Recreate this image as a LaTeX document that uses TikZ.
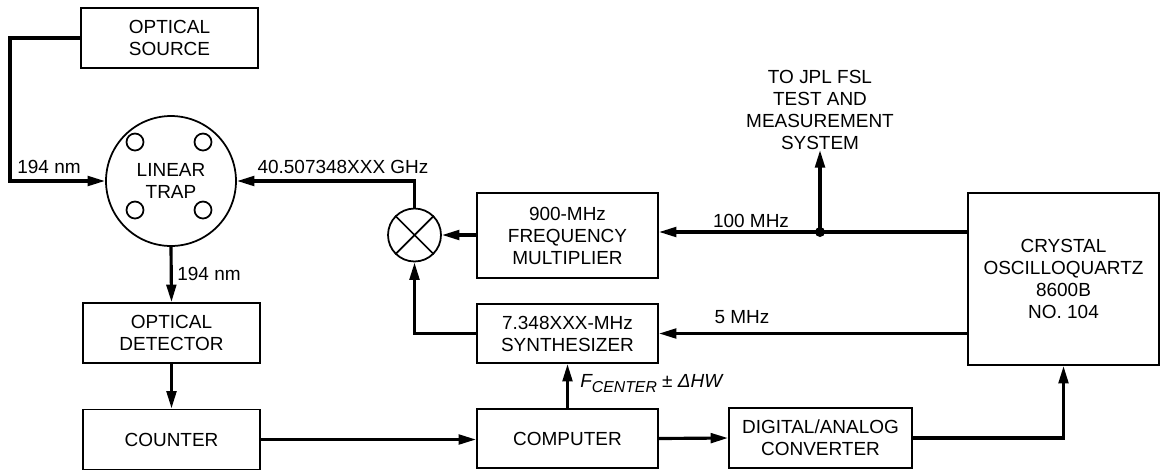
\documentclass[tikz,border=0pt]{standalone}
\usepackage{fontspec}
\setmainfont{Liberation Sans}
\usetikzlibrary{arrows.meta}

\begin{document}
\begin{tikzpicture}[x=0.02cm, y=-0.02cm,
		font=\fontsize{10.8}{12.5}\selectfont,
		box/.style={draw, line width=1pt, align=center, inner sep=0pt},
		ring/.style={draw, circle, line width=1pt, inner sep=0pt, align=center},
		conn/.style={line width=1.8pt},
		arr/.style={conn, -{Triangle[length=10pt, width=5.5pt]}},
		lbl/.style={inner sep=0pt}]
	% Frame of the picture
	\useasboundingbox (0,0) rectangle (1162,471);
	
	% Left column: source, trap, detector, counter
	\node[box, minimum width=3.54cm, minimum height=1.2cm] (src) at (169.5,38) {OPTICAL\\SOURCE};
	\node[ring, minimum size=2.6cm] (trap) at (171,181) {LINEAR\\TRAP};
	\foreach \dx/\dy in {-36/-39, 32/-39, -36/29, 32/29}
		\draw[line width=1pt] ([shift={(\dx,\dy)}]trap.center) circle[radius=0.17cm];
	\node[box, minimum width=3.54cm, minimum height=1.2cm] (det) at (171.5,333) {OPTICAL\\DETECTOR};
	\node[box, minimum width=3.54cm, minimum height=1.2cm] (cnt) at (171.5,439.5) {COUNTER};
	
	% Middle column: mixer, multiplier, synthesizer, computer
	\node[ring, minimum size=1.06cm] (mix) at (414.5,235) {};
	\draw[line width=1pt] (mix.north west) -- (mix.south east) (mix.north east) -- (mix.south west);
	\node[box, minimum width=3.62cm, minimum height=1.7cm] (mult) at (567.5,235.5) {900-MHz\\FREQUENCY\\MULTIPLIER};
	\node[box, minimum width=3.62cm, minimum height=1.18cm] (synth) at (567.5,333.5) {7.348XXX-MHz\\SYNTHESIZER};
	\node[box, minimum width=3.62cm, minimum height=1.18cm] (comp) at (567.5,438.5) {COMPUTER};
	
	% Right side: converter and crystal
	\node[box, minimum width=3.66cm, minimum height=1.2cm] (dac) at (820.5,438) {DIGITAL/ANALOG\\CONVERTER};
	\node[box, minimum width=3.82cm, minimum height=3.44cm] (xtal) at (1063.5,279) {CRYSTAL\\OSCILLOQUARTZ\\8600B\\NO. 104};
	
	% Optical path
	\coordinate (bend) at (10,181);
	\draw[arr] (src.west) -| (bend) -- (trap.west);
	\node[lbl, anchor=base west] (lamA) at (17,173) {194 nm};
	\draw[arr] (trap.south) -- (det.north);
	\node[lbl, anchor=west] (lamB) at (177,274) {194 nm};
	\draw[arr] (det.south) -- (cnt.north);
	
	% Counting and control
	\draw[arr] (cnt.east) -- (cnt.east -| comp.west);
	\draw[arr] (comp.north) -- (synth.south);
	\node[lbl, anchor=base west] (fc) at (580,387) {\itshape F\raisebox{-0.5ex}{\fontsize{9}{9}\selectfont CENTER} \upshape± \itshape ΔHW};
	\draw[arr] (comp.east) -- (dac.west);
	\draw[arr] (dac.east) -| (xtal.south);
	
	% Reference chain
	\coordinate (tap) at (820,232);
	\draw[arr] (xtal.west |- tap) -- (tap -| mult.east);
	\fill (tap) circle[radius=0.1cm];
	\node[lbl, anchor=base] (mhzA) at (751,227) {100 MHz};
	\node[lbl, align=center, anchor=south] (fsl) at (820,150) {TO JPL FSL\\TEST AND\\MEASUREMENT\\SYSTEM};
	\draw[arr] (tap) -- (fsl.south);
	\draw[arr] (xtal.west |- synth.east) -- (synth.east);
	\node[lbl, anchor=base] (mhzB) at (742,323) {5 MHz};
	
	% Mixing up to the trap
	\draw[arr] (mult.west |- mix.east) -- (mix.east);
	\draw[arr] (synth.west) -| (mix.south);
	\draw[arr] (mix.north) |- (trap.east);
	\node[lbl, anchor=base] (ghz) at (343,173) {40.507348XXX GHz};
\end{tikzpicture}
\end{document}
